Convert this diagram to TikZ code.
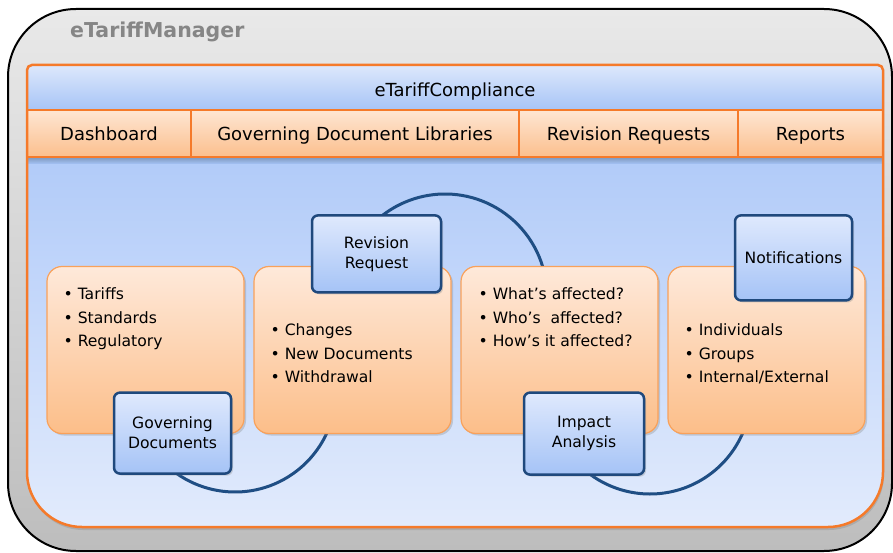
\documentclass[tikz,border=0pt]{standalone}
\usepackage{fontspec}
\setmainfont{DejaVu Sans}
\usetikzlibrary{positioning,calc,shadows}

\definecolor{grayTop}{HTML}{E9E9E9}
\definecolor{grayBot}{HTML}{BDBDBD}
\definecolor{titleGray}{HTML}{868686}
\definecolor{orangeLine}{HTML}{F57A2A}
\definecolor{bodyTop}{HTML}{A5C3F8}
\definecolor{bodyBot}{HTML}{E2EBFC}
\definecolor{headTop}{HTML}{DDE8FC}
\definecolor{headBot}{HTML}{A7C4F6}
\definecolor{tabTop}{HTML}{FEE6D3}
\definecolor{tabBot}{HTML}{FBBF8D}
\definecolor{cardLine}{HTML}{F9A15A}
\definecolor{cardTop}{HTML}{FEE9DA}
\definecolor{cardBot}{HTML}{FCBE89}
\definecolor{tagLine}{HTML}{1F497D}
\definecolor{tagTop}{HTML}{DFE9FD}
\definecolor{tagBot}{HTML}{A5C3F6}
\definecolor{ringLine}{HTML}{1F4E84}

\begin{document}
\begin{tikzpicture}[x=1pt, y=1pt,
    tab/.style = {draw=orangeLine, line width=1.5pt, top color=tabTop, bottom color=tabBot,
        minimum height=47pt, inner sep=0pt, outer sep=0pt, text height=15.5pt, text depth=2pt,
        font=\fontsize{18}{21}\selectfont},
    card/.style = {draw=cardLine, line width=1.2pt, rounded corners=15pt,
        top color=cardTop, bottom color=cardBot, minimum width=197pt, minimum height=167pt,
        drop shadow={shadow xshift=2pt, shadow yshift=-2pt, opacity=0.3}},
    tag/.style = {draw=tagLine, line width=2.5pt, rounded corners=6pt, top color=tagTop,
        bottom color=tagBot, align=center, inner sep=0pt, font=\fontsize{15.6}{20}\selectfont,
        drop shadow={shadow xshift=2pt, shadow yshift=-2pt, opacity=0.3}},
    items/.style = {anchor=north west, inner sep=0pt, align=left, font=\fontsize{15.6}{23.5}\selectfont},
    ring/.style = {draw=ringLine, line width=3pt}
    ]
    \useasboundingbox (0,0) rectangle (893,552);

    % outer frame
    \path[draw=black, line width=2pt, rounded corners=68pt, top color=grayTop, bottom color=grayBot]
        (8,1) rectangle (892,543);
    \node[anchor=west, inner sep=0pt, text=titleGray, font=\bfseries\fontsize{20.5}{24}\selectfont]
        (mgr) at (70,520) {eTariffManager};

    % compliance panel
    \path[top color=bodyTop, bottom color=bodyBot, drop shadow={shadow xshift=1pt, shadow yshift=-3pt, opacity=0.3}]
        (455,25) [rounded corners=55pt] -- (883,25) -- (883,250) [rounded corners=5pt]
        -- (883,487) -- (27,487) -- (27,250) [rounded corners=55pt] -- (27,25) -- cycle;
    \begin{scope}
        \clip (455,25) [rounded corners=55pt] -- (883,25) -- (883,250) [rounded corners=5pt]
            -- (883,487) -- (27,487) -- (27,250) [rounded corners=55pt] -- (27,25) -- cycle;
        \shade[top color=tagLine!60, bottom color=bodyTop] (27,388) rectangle (883,396);
        \node[draw=orangeLine, line width=1.5pt, top color=headTop, bottom color=headBot,
            minimum width=856pt, minimum height=45pt, inner sep=0pt, outer sep=0pt,
            anchor=south west] (head) at (27,442) {};
        \node[tab, minimum width=164pt, anchor=north west] (dash) at (27,442) {Dashboard};
        \node[tab, minimum width=328pt, right=0pt of dash] (libs) {Governing Document Libraries};
        \node[tab, minimum width=219pt, right=0pt of libs] (revs) {Revision Requests};
        \node[tab, minimum width=145pt, right=0pt of revs] (reps) {Reports};
    \end{scope}
    \node[font=\fontsize{18}{21}\selectfont, inner sep=0pt] (comp) at (455,460) {eTariffCompliance};
    \path[draw=orangeLine, line width=2.5pt]
        (455,25) [rounded corners=55pt] -- (883,25) -- (883,250) [rounded corners=5pt]
        -- (883,487) -- (27,487) -- (27,250) [rounded corners=55pt] -- (27,25) -- cycle;

    % cycle arcs
    \coordinate (c1) at (235,161);
    \coordinate (c2) at (445,256);
    \coordinate (c3) at (650,159);
    \draw[ring] (c1) ++(215:101pt) arc[start angle=215, end angle=340, radius=101pt];
    \draw[ring] (c2) ++(150:102pt) arc[start angle=150, end angle=10, radius=102pt];
    \draw[ring] (c3) ++(225:101pt) arc[start angle=225, end angle=340, radius=101pt];

    % cards
    \node[card] (gov) at (145.5,202) {};
    \node[card, right=8.8pt of gov] (chg) {};
    \node[card, right=8.8pt of chg] (imp) {};
    \node[card, right=8.8pt of imp] (ntf) {};

    \node[items] (govlist) at ($(gov.north west)+(17,-22)$)
        {\textbullet\ Tariffs\\ \textbullet\ Standards\\ \textbullet\ Regulatory};
    \node[items] (chglist) at ($(chg.north west)+(17,-58)$)
        {\textbullet\ Changes\\ \textbullet\ New Documents\\ \textbullet\ Withdrawal};
    \node[items] (implist) at ($(imp.north west)+(18,-22)$)
        {\textbullet\ What’s affected?\\ \textbullet\ Who’s \ affected?\\ \textbullet\ How’s it affected?};
    \node[items] (ntflist) at ($(ntf.north west)+(17,-58)$)
        {\textbullet\ Individuals\\ \textbullet\ Groups\\ \textbullet\ Internal/External};

    % tags
    \node[tag, minimum width=117pt, minimum height=81pt] (govtag) at ($(gov.south)+(27,1)$) {Governing\\Documents};
    \node[tag, minimum width=129pt, minimum height=77pt] (chgtag) at ($(chg.north)+(24,12)$) {Revision\\Request};
    \node[tag, minimum width=120pt, minimum height=82pt] (imptag) at ($(imp.south)+(24.5,0.5)$) {Impact\\Analysis};
    \node[tag, minimum width=117pt, minimum height=85pt] (ntftag) at ($(ntf.north)+(27,8)$) {Notifications};
\end{tikzpicture}
\end{document}
